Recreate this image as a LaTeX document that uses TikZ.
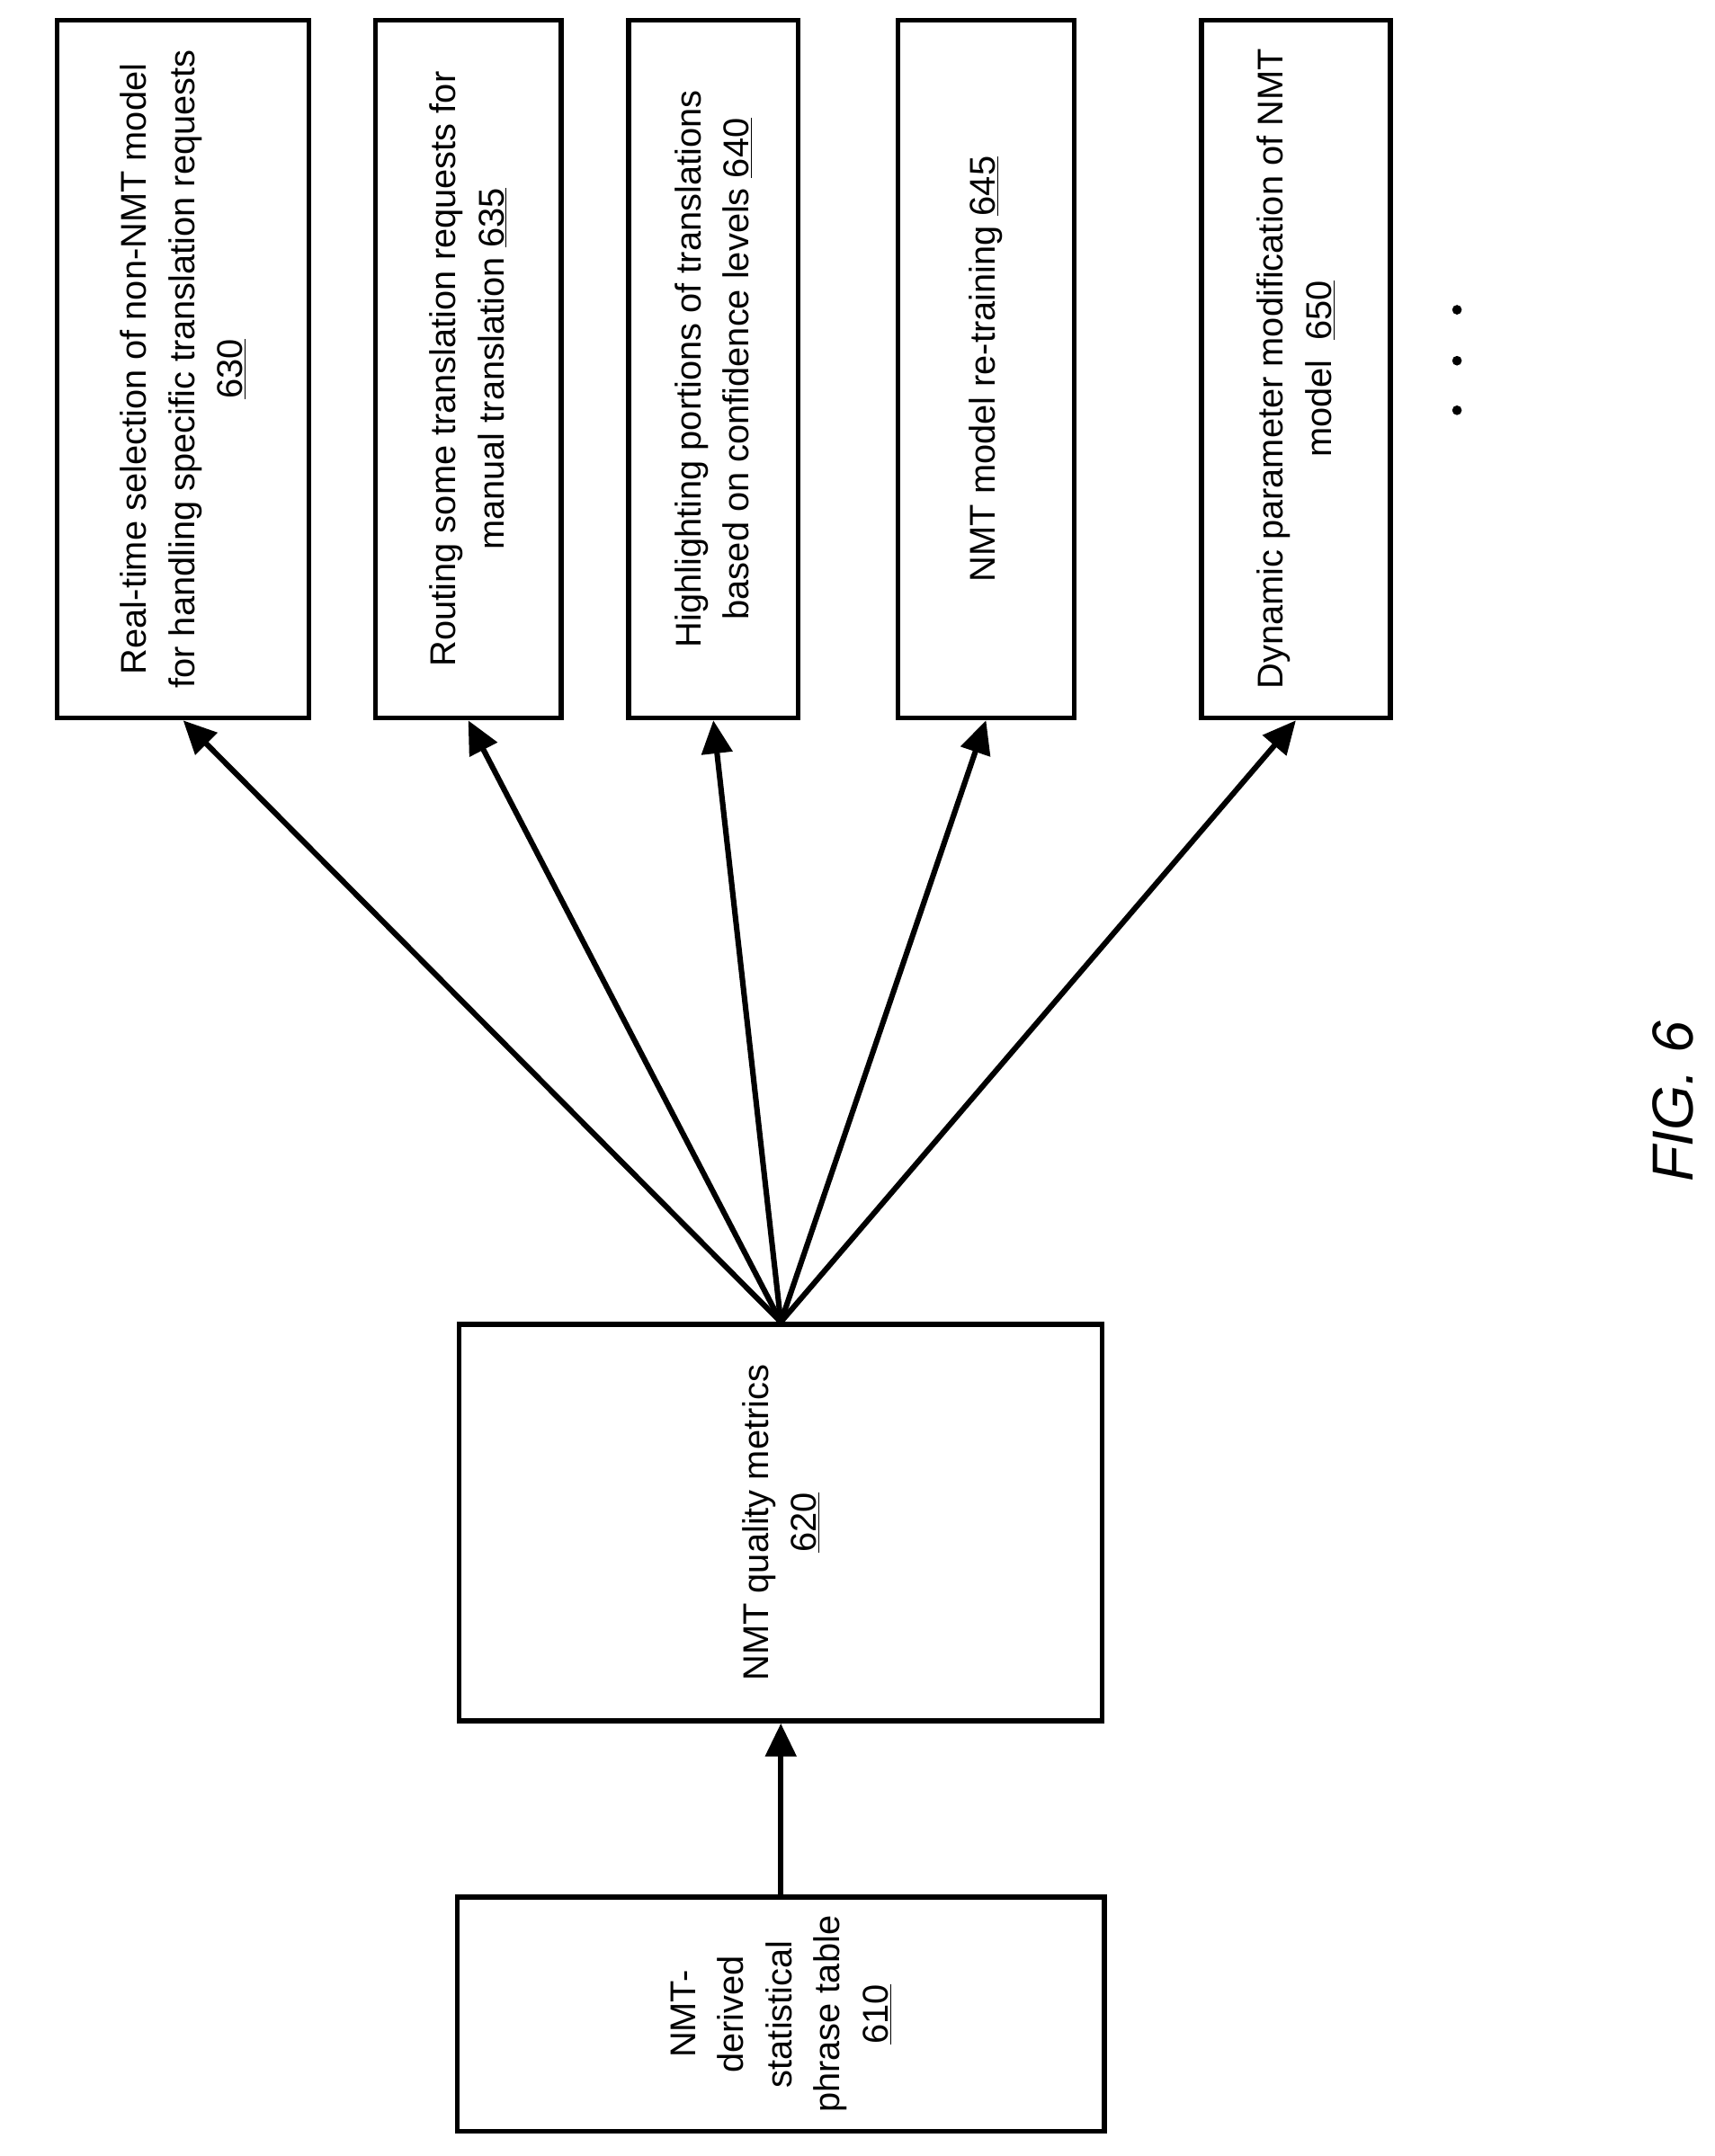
\documentclass[tikz,border=0pt]{standalone}
\usepackage{fontspec}
\setmainfont{Liberation Sans}
\usetikzlibrary{arrows.meta}

\begin{document}
\begin{tikzpicture}[x=1pt, y=-1pt,
    box/.style={draw, line width=3.5pt, rotate=90, align=center, inner sep=4pt,
        font=\fontsize{26}{35}\selectfont},
    link/.style={line width=4pt, -{Triangle[length=24pt,width=22pt]}}]

    \useasboundingbox (0,0) rectangle (1245,1566);

    % bottom row
    \node[box, minimum width=170pt, minimum height=470pt] (n610) at (567,1463)
        {NMT-\\derived\\statistical\\phrase table\\\underline{610}};
    \node[box, minimum width=288pt, minimum height=467pt] (n620) at (567,1106)
        {NMT quality metrics\\\underline{620}};

    % top row
    \node[box, minimum width=507pt, minimum height=183pt] (n630) at (133,268)
        {Real-time selection of non-NMT model\\for handling specific translation requests\\\underline{630}};
    \node[box, minimum width=507pt, minimum height=135pt] (n635) at (340,268)
        {Routing some translation requests for\\manual translation \underline{635}};
    \node[box, minimum width=507pt, minimum height=123pt] (n640) at (518,268)
        {Highlighting portions of translations\\based on confidence levels \underline{640}};
    \node[box, minimum width=507pt, minimum height=128pt] (n645) at (716,268)
        {NMT model re-training \underline{645}};
    \node[box, minimum width=507pt, minimum height=137pt] (n650) at (941,268)
        {Dynamic parameter modification of NMT\\model \ \underline{650}};

    \coordinate (hub) at (n620.east);
    \draw[link] (n610.east) -- (n620.west);
    \foreach \t in {n630, n635, n640, n645, n650}
        \draw[link] (hub) -- (\t.west);

    \foreach \y in {225,262,298}
        \fill (1058,\y) circle (3.5pt);

    \node[rotate=90, font=\fontsize{42}{48}\selectfont\itshape] (fig) at (1215,800) {FIG. 6};
\end{tikzpicture}
\end{document}
